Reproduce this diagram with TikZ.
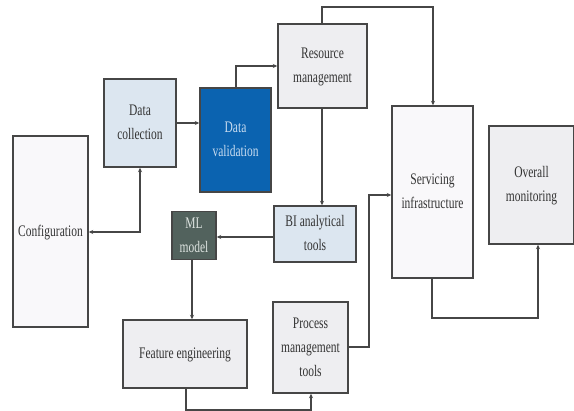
\documentclass[tikz,border=0pt]{standalone}
\usepackage{fontspec}
\setmainfont{Liberation Serif}
\usetikzlibrary{arrows.meta}
\definecolor{lblue}{HTML}{DCE6F0}
\definecolor{dblue}{HTML}{0B63B0}
\definecolor{dvtext}{HTML}{C8DCF0}
\definecolor{mlfill}{HTML}{52625D}
\definecolor{mltext}{HTML}{DDE3E0}
\definecolor{lgray}{HTML}{EEEEF1}
\definecolor{vlgray}{HTML}{F9F8FA}
\definecolor{edge}{HTML}{464646}
\definecolor{txt}{HTML}{333333}
\newcommand{\tx}[1]{\scalebox{1}[1.4]{\begin{tabular}{@{}c@{}}#1\end{tabular}}}
\tikzset{
  box/.style={draw=edge, line width=1.4pt, inner sep=0pt, align=center, text=txt, font=\fontsize{11.5}{17}\selectfont},
  conn/.style={draw=edge, line width=1.1pt, -{Stealth[length=4.5pt,width=4pt]}},
}
\begin{document}
\begin{tikzpicture}[x=1pt,y=-1pt]
\useasboundingbox (0,0) rectangle (574,411);
% boxes
\node[box, fill=vlgray, minimum width=75pt, minimum height=191pt] (conf) at (50.5,231.5) {\tx{Configuration}};
\node[box, fill=lblue, minimum width=72pt, minimum height=88pt] (dc) at (140,123) {\tx{Data\\collection}};
\node[box, fill=dblue, text=dvtext, minimum width=71pt, minimum height=104pt] (dv) at (235.5,140) {\tx{Data\\validation}};
\node[box, fill=lgray, minimum width=89pt, minimum height=84pt] (rm) at (322.5,66) {\tx{Resource\\management}};
\node[box, fill=vlgray, minimum width=81pt, minimum height=172pt] (si) at (432.5,192) {\tx{Servicing\\infrastructure}};
\node[box, fill=lgray, minimum width=85pt, minimum height=118pt] (om) at (531.5,185) {\tx{Overall\\monitoring}};
\node[box, fill=lblue, minimum width=82pt, minimum height=56pt] (bi) at (315,234) {\tx{BI analytical\\tools}};
\node[box, fill=mlfill, text=mltext, minimum width=44pt, minimum height=41pt] (ml) at (194,235.5) {\tx{ML\\model}};
\node[box, fill=lgray, minimum width=124pt, minimum height=68pt] (fe) at (185,354) {\tx{Feature engineering}};
\node[box, fill=lgray, minimum width=75pt, minimum height=91pt] (pm) at (310.5,347.5) {\tx{Process\\management\\tools}};
% connectors
\coordinate (p1) at (236,66);
\draw[conn] (dc.east |- 0,123) -- (dv.west |- 0,123);
\draw[conn] (dv.north -| p1) -- (p1) -- (rm.west |- p1);
\coordinate (p2) at (322,7);
\coordinate (p3) at (433,7);
\draw[conn] (rm.north -| p2) -- (p2) -- (p3) -- (si.north -| p3);
\draw[conn] (rm.south -| p2) -- (bi.north -| p2);
\draw[conn] (bi.west |- 0,237) -- (ml.east |- 0,237);
\draw[conn] (ml.south -| 192,0) -- (fe.north -| 192,0);
\coordinate (p4) at (186,410);
\coordinate (p5) at (311,410);
\draw[conn] (fe.south -| p4) -- (p4) -- (p5) -- (pm.south -| p5);
\coordinate (p6) at (369,347);
\coordinate (p7) at (369,195);
\draw[conn] (pm.east |- p6) -- (p6) -- (p7) -- (si.west |- p7);
\coordinate (p8) at (432,318);
\coordinate (p9) at (538,318);
\draw[conn] (si.south -| p8) -- (p8) -- (p9) -- (om.south -| p9);
\coordinate (p10) at (140,232);
\draw[conn, {Stealth[length=4.5pt,width=4pt]}-{Stealth[length=4.5pt,width=4pt]}] (dc.south) -- (p10) -- (conf.east |- p10);
\end{tikzpicture}
\end{document}
